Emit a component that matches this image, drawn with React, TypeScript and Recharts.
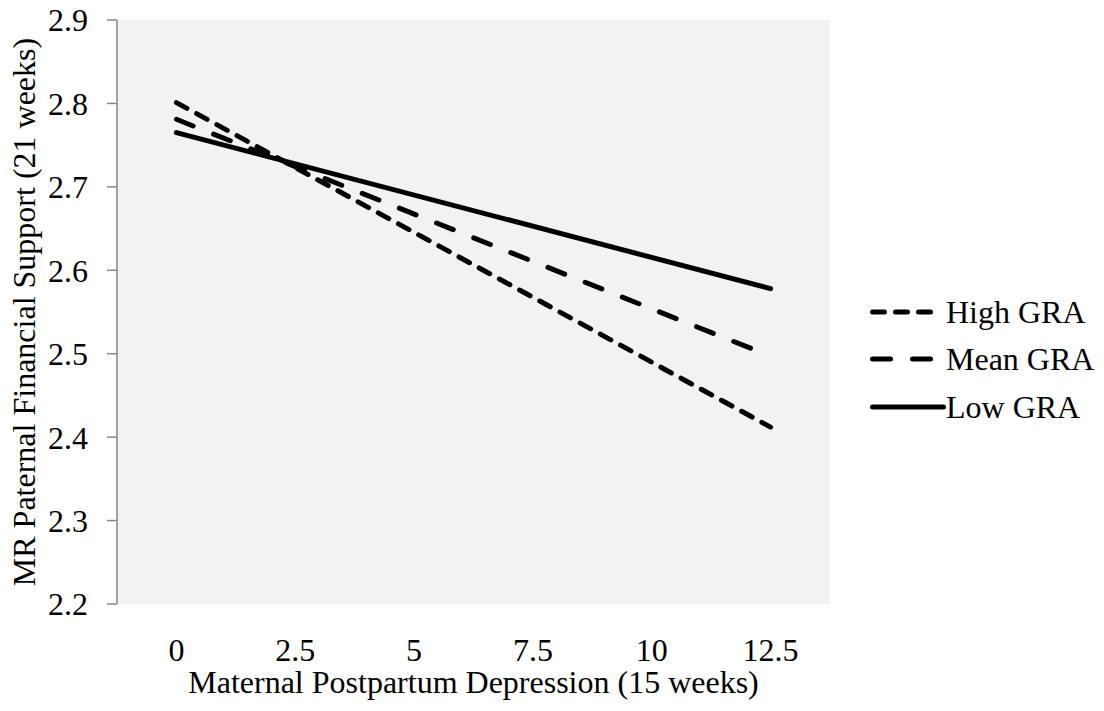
import React from "react";
import {
  CartesianGrid,
  Legend,
  Line,
  LineChart,
  XAxis,
  YAxis
} from "recharts";

// x categories (Maternal Postpartum Depression, 15 weeks)
const categories = [0, 2.5, 5, 7.5, 10, 12.5];
// the simple slopes are only drawn between the two end categories
const endpoints = [0, 12.5];
const highGRA = [2.801, 2.412];
const meanGRA = [2.781, 2.497];
const lowGRA = [2.765, 2.578];
const yTicks = [2.2, 2.3, 2.4, 2.5, 2.6, 2.7, 2.8, 2.9];

const seriesList = [
  { key: "high", name: "High GRA", dash: "12 11", legendLen: 58 },
  { key: "mean", name: "Mean GRA", dash: "18 22", legendLen: 58 },
  { key: "low", name: "Low GRA", dash: undefined, legendLen: 71 }
];

const data = endpoints.map((x, i) => ({
  x,
  high: highGRA[i],
  mean: meanGRA[i],
  low: lowGRA[i]
}));

// excel-style category axis: tick marks sit between the categories
const step = categories[1] - categories[0];
const boundaries = [
  categories[0] - step / 2,
  ...categories.map((c) => c + step / 2)
];
const xDomain = [boundaries[0], boundaries[boundaries.length - 1]];

const FONT = "'Liberation Serif', 'Times New Roman', serif";
const AXIS = "#868686";

function LegendBox() {
  return (
    <div style={{ fontFamily: FONT, fontSize: 32, color: "#000" }}>
      {seriesList.map((s) => (
        <div
          key={s.key}
          style={{ display: "flex", alignItems: "center", height: 47.5 }}
        >
          <svg width={78} height={10} style={{ display: "block" }}>
            <line
              x1={4.5}
              y1={5}
              x2={4.5 + s.legendLen}
              y2={5}
              stroke="#000"
              strokeWidth={5}
              strokeLinecap="round"
              strokeDasharray={s.dash}
            />
          </svg>
          <span style={{ lineHeight: 1 }}>{s.name}</span>
        </div>
      ))}
    </div>
  );
}

export default function App() {
  return (
    <div style={{ position: "absolute", left: 0, top: 0, background: "#fff" }}>
      <LineChart
        width={1104}
        height={711}
        data={data}
        margin={{ top: 20, right: 274, left: 0, bottom: 47 }}
        style={{ fontFamily: FONT }}
      >
        <CartesianGrid
          horizontal={false}
          vertical={false}
          fill="#f2f2f2"
          stroke="none"
        />
        <XAxis
          xAxisId="marks"
          dataKey="x"
          type="number"
          domain={xDomain}
          ticks={boundaries}
          tick={false}
          height={0}
          tickSize={10}
          stroke={AXIS}
          strokeWidth={1.5}
        />
        <XAxis
          xAxisId="labels"
          dataKey="x"
          type="number"
          domain={xDomain}
          ticks={categories}
          tickLine={false}
          axisLine={false}
          tickSize={0}
          tickMargin={34}
          height={60}
          tick={{ fill: "#000", fontSize: 32, fontFamily: FONT }}
          label={{
            value: "Maternal Postpartum Depression (15 weeks)",
            position: "bottom",
            offset: 6,
            fill: "#000",
            fontSize: 32,
            fontFamily: FONT
          }}
        />
        <YAxis
          domain={[2.2, 2.9]}
          ticks={yTicks}
          width={117}
          tickSize={10}
          tickMargin={19}
          stroke={AXIS}
          strokeWidth={1.5}
          tickFormatter={(v: number) => v.toFixed(1)}
          tick={{ fill: "#000", fontSize: 32, fontFamily: FONT }}
          label={{
            value: "MR Paternal Financial Support (21 weeks)",
            angle: -90,
            position: "insideLeft",
            offset: 24,
            fill: "#000",
            fontSize: 32,
            fontFamily: FONT,
            style: { textAnchor: "middle" }
          }}
        />
        {seriesList.map((s) => (
          <Line
            key={s.key}
            xAxisId="marks"
            dataKey={s.key}
            name={s.name}
            stroke="#000"
            strokeWidth={5}
            strokeLinecap="round"
            strokeDasharray={s.dash}
            dot={false}
            activeDot={false}
            isAnimationActive={false}
          />
        ))}
        <Legend
          layout="vertical"
          align="center"
          verticalAlign="middle"
          content={() => <LegendBox />}
          wrapperStyle={{ left: 868, top: 288, width: 236 }}
        />
      </LineChart>
    </div>
  );
}
